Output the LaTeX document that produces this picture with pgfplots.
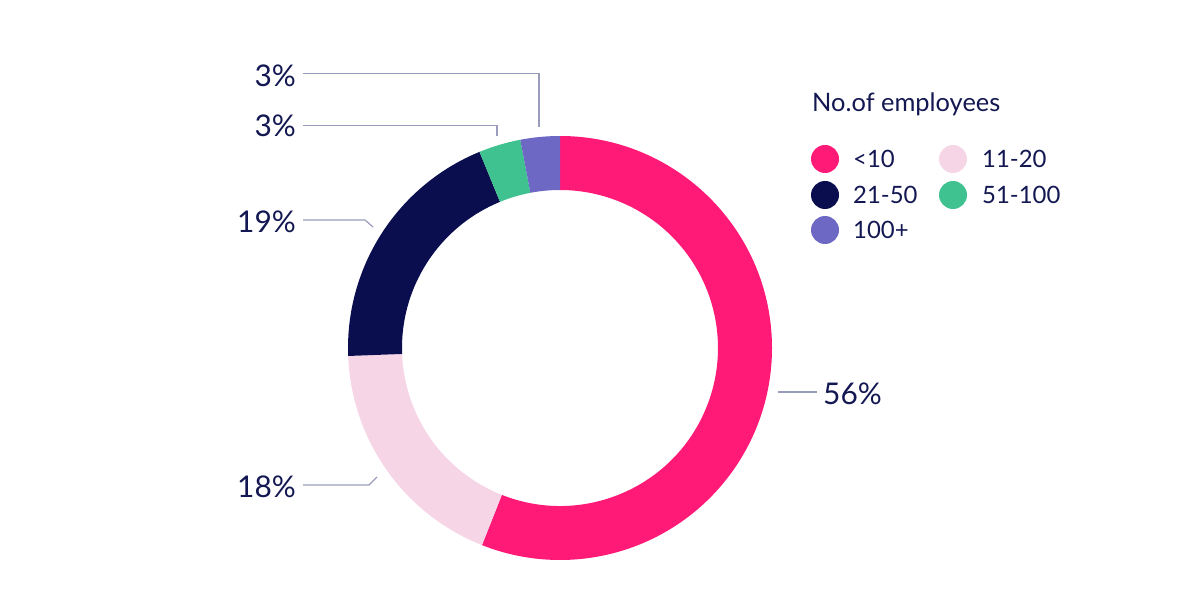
\documentclass[border=0pt]{standalone}
\usepackage{fontspec}
\setmainfont{Lato}
\usepackage{pgfplots}
\usepackage{pgfplotstable}
\pgfplotsset{compat=1.18}
\definecolor{c0}{HTML}{FF1A78}
\definecolor{c1}{HTML}{F6D6E6}
\definecolor{c2}{HTML}{0A0E4E}
\definecolor{c3}{HTML}{40C190}
\definecolor{c4}{HTML}{6C68C4}
\definecolor{txt}{HTML}{141852}
\definecolor{lead}{HTML}{9A9CBC}
\pgfplotstableread{
label value
{<10} 56.0
{11-20} 18.4
{21-50} 19.4
{51-100} 3.2
{100+} 3.0
}\donutdata
\begin{document}
\begin{tikzpicture}
\begin{axis}[scale only axis, width=1200bp, height=600bp,
  xmin=0, xmax=1200, ymin=0, ymax=600, y dir=reverse,
  hide axis, clip=false]
\path (axis cs:0,0) rectangle (axis cs:1200,600);
\def\cum{0}
\pgfplotsforeachungrouped \i in {0,...,4}{%
  \pgfplotstablegetelem{\i}{value}\of\donutdata
  \pgfmathsetmacro\aone{90-\cum*3.6}%
  \pgfmathsetmacro\atwo{90-(\cum+\pgfplotsretval)*3.6}%
  \pgfmathsetmacro\newcum{\cum+\pgfplotsretval}%
  \xdef\cum{\newcum}%
  \edef\cmd{\noexpand\fill[c\i] (axis cs:560,348) ++(\aone:212bp) arc[start angle=\aone, end angle=\atwo, radius=212bp] -- ++({\atwo+180}:54bp) arc[start angle=\atwo, end angle=\aone, radius=158bp] -- cycle;}%
  \cmd
}
% leader lines
\draw[lead, line width=1.2bp] (axis cs:303,73.3) -- (axis cs:539,73.3) -- (axis cs:539,127);
\draw[lead, line width=1.2bp] (axis cs:303,125.3) -- (axis cs:497,125.3) -- (axis cs:497,136);
\draw[lead, line width=1.2bp] (axis cs:303,220) -- (axis cs:365,220) -- (axis cs:373,227);
\draw[lead, line width=1.2bp] (axis cs:303,485) -- (axis cs:369,485) -- (axis cs:377,477);
\draw[lead, line width=1.2bp] (axis cs:778,392) -- (axis cs:817,392);
% percentage labels
\tikzset{pl/.style={text=txt, inner sep=0pt, font=\fontsize{30}{30}\selectfont}}
\node[pl, anchor=east] at (axis cs:296,75.5) {3\%};
\node[pl, anchor=east] at (axis cs:296,126) {3\%};
\node[pl, anchor=east] at (axis cs:296,222) {19\%};
\node[pl, anchor=east] at (axis cs:296,487) {18\%};
\node[pl, anchor=west] at (axis cs:823,394) {56\%};
% legend
\tikzset{lg/.style={text=txt, inner sep=0pt, anchor=west, font=\fontsize{24}{24}\selectfont}}
\node[lg, font=\fontsize{25.5}{25.5}\selectfont] at (axis cs:812,104) {No.of employees};
\fill[c0] (axis cs:825,159) circle (14bp);
\node[lg] at (axis cs:853,159) {<10};
\fill[c1] (axis cs:953,159) circle (14bp);
\node[lg] at (axis cs:982,159) {11-20};
\fill[c2] (axis cs:825,195) circle (14bp);
\node[lg] at (axis cs:853,195) {21-50};
\fill[c3] (axis cs:953,195) circle (14bp);
\node[lg] at (axis cs:982,195) {51-100};
\fill[c4] (axis cs:825,230) circle (14bp);
\node[lg] at (axis cs:853,230) {100+};
\end{axis}
\end{tikzpicture}
\end{document}
